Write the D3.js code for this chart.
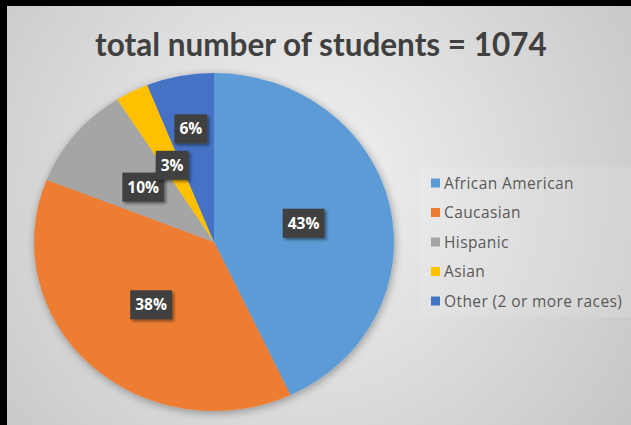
<!DOCTYPE html>
<html><head><meta charset="utf-8">
<script src="https://cdn.jsdelivr.net/npm/d3@7"></script>
<style>html,body{margin:0;padding:0;background:#000;}svg{display:block;}</style>
</head><body>
<script>
const title = "total number of students = 1074";
const categories = ["African American","Caucasian","Hispanic","Asian","Other (2 or more races)"];
const counts = [462, 408, 107, 32, 65];
const colors = ["#5B9BD5","#ED7D31","#A5A5A5","#FFC000","#4472C4"];

const W = 631, H = 425;
const svg = d3.select("body").append("svg").attr("width", W).attr("height", H);
const defs = svg.append("defs");
const rg = defs.append("radialGradient").attr("id","bg").attr("gradientUnits","userSpaceOnUse")
  .attr("cx", 300).attr("cy", 190).attr("r", 420);
rg.append("stop").attr("offset","0%").attr("stop-color","#f4f4f4");
rg.append("stop").attr("offset","100%").attr("stop-color","#c4c4c4");
const sh = defs.append("filter").attr("id","sh").attr("x","-20%").attr("y","-20%").attr("width","140%").attr("height","140%");
sh.append("feDropShadow").attr("dx",1).attr("dy",2).attr("stdDeviation",4).attr("flood-color","#000").attr("flood-opacity",0.35);
const sh2 = defs.append("filter").attr("id","sh2").attr("x","-30%").attr("y","-30%").attr("width","160%").attr("height","160%");
sh2.append("feDropShadow").attr("dx",2).attr("dy",2).attr("stdDeviation",1.5).attr("flood-color","#000").attr("flood-opacity",0.45);

svg.append("rect").attr("x",0).attr("y",0).attr("width",W).attr("height",H).attr("fill","#000");
svg.append("rect").attr("x",7).attr("y",6).attr("width",W-7).attr("height",H-6).attr("fill","url(#bg)");

svg.append("text").attr("x",321).attr("y",56).attr("text-anchor","middle")
  .attr("font-family","Lato, 'Open Sans', sans-serif").attr("font-weight","bold")
  .attr("font-size",31.5).attr("fill","#404040").text(title);

const cx = 214, cy = 242, R = 169, sx = 1.065;
const total = d3.sum(counts);
const pie = d3.pie().sort(null).value(d => d);
const arcs = pie(counts);
const arc = d3.arc().innerRadius(0).outerRadius(R);

const g = svg.append("g").attr("transform", `translate(${cx},${cy}) scale(${sx},1)`);
const pg = g.append("g").attr("filter","url(#sh)");
pg.selectAll("path").data(arcs).enter().append("path")
  .attr("d", arc).attr("fill", (d,i) => colors[i]);

const fmt = d3.format(".0%");
const lg = svg.append("g");
const boxH = 29, padX = 5;
const LF = "'Open Sans', sans-serif";
const placed = [];
const measure = svg.append("text").attr("font-family",LF)
  .attr("font-weight","bold").attr("font-size",15.5);
function overlap(a,b){
  const ox = Math.min(a.x2,b.x2)-Math.max(a.x1,b.x1);
  const oy = Math.min(a.y2,b.y2)-Math.max(a.y1,b.y1);
  return (ox>0&&oy>0)? ox*oy : 0;
}
arcs.forEach((d,i) => {
  const txt = fmt(d.value/total);
  measure.text(txt);
  const w = measure.node().getComputedTextLength() + padX*2;
  const mid = (d.startAngle + d.endAngle)/2;
  let r = 0.51*R, box;
  const mk = rr => { const x = cx + Math.sin(mid)*rr*sx, y = cy - Math.cos(mid)*rr;
    return {x, y, x1:x-w/2, x2:x+w/2, y1:y-boxH/2, y2:y+boxH/2, w}; };
  box = mk(r);
  while (placed.some(p => overlap(p,box) > 0.1*w*boxH) && r < R) { r += 1; box = mk(r); }
  if (r > 0.51*R) { r += 16; box = mk(r); }
  placed.push(box);
  lg.append("rect").attr("x",box.x1).attr("y",box.y1).attr("width",w).attr("height",boxH)
    .attr("fill","#3f3f3f").attr("filter","url(#sh2)");
  lg.append("text").attr("x",box.x).attr("y",box.y+5.5).attr("text-anchor","middle")
    .attr("font-family",LF).attr("font-weight","bold")
    .attr("font-size",15.5).attr("fill","#fff").text(txt);
});
measure.remove();

const legend = svg.append("g");
legend.append("rect").attr("x",421).attr("y",167).attr("width",210).attr("height",150)
  .attr("fill","#ffffff").attr("opacity",0.12);
const ly = d3.scalePoint().domain(categories).range([183, 301]);
categories.forEach((c,i) => {
  legend.append("rect").attr("x",431).attr("y",ly(c)-4.5).attr("width",9).attr("height",9).attr("fill",colors[i]);
  legend.append("text").attr("x",444).attr("y",ly(c)+5.5)
    .attr("font-family",LF).attr("font-size",15.5).attr("letter-spacing",0.4)
    .attr("fill","#595959").text(c);
});
</script>
</body></html>
